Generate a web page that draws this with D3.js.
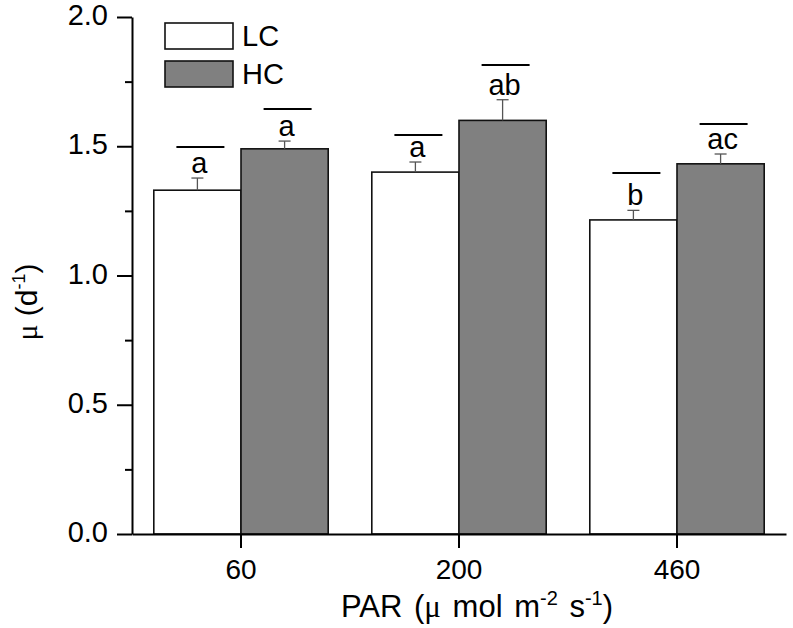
<!DOCTYPE html>
<html>
<head>
<meta charset="utf-8">
<script src="https://cdn.jsdelivr.net/npm/d3@7"></script>
<style>
  html, body { margin: 0; padding: 0; background: #fff; }
  svg { display: block; font-family: "Liberation Sans", Arial, sans-serif; }
</style>
</head>
<body>
<svg id="chart" width="793" height="628"></svg>
<script>
// ---- data ----
const categories = ["60", "200", "460"];
const seriesNames = ["LC", "HC"];
const lcValues = [1.33, 1.40, 1.215];
const hcValues = [1.49, 1.60, 1.432];
const lcErrors = [0.047, 0.039, 0.037];
const hcErrors = [0.030, 0.080, 0.038];
const lcLetters = ["a", "a", "b"];
const hcLetters = ["a", "ab", "ac"];
const lcLineLevels = [1.497, 1.544, 1.397];
const hcLineLevels = [1.644, 1.814, 1.586];
const yMajorTicks = [0, 0.5, 1.0, 1.5, 2.0];
const yMinorTicks = [0.25, 0.75, 1.25, 1.75];

const colors = { LC: "#ffffff", HC: "#808080" };

(function () {
const svg = d3.select("#chart");
const mLeft = 132, mRight = 786, mTop = 17, mBottom = 534;
const FONT = "Liberation Sans, Arial, sans-serif";

const x = d3.scaleBand().domain(categories).range([mLeft, mRight])
  .paddingInner(0.2).paddingOuter(0.1);
const xSub = d3.scaleBand().domain(seriesNames).range([0, x.bandwidth()]).padding(0);
const y = d3.scaleLinear().domain([0, 2]).range([mBottom, mTop]);

const rows = [];
categories.forEach((c, i) => {
  rows.push({ cat: c, s: "LC", v: lcValues[i], e: lcErrors[i], letter: lcLetters[i], line: lcLineLevels[i] });
  rows.push({ cat: c, s: "HC", v: hcValues[i], e: hcErrors[i], letter: hcLetters[i], line: hcLineLevels[i] });
});
const cx = d => x(d.cat) + xSub(d.s) + xSub.bandwidth() / 2;

// bars
svg.append("g").selectAll("rect").data(rows).join("rect")
  .attr("x", d => x(d.cat) + xSub(d.s))
  .attr("y", d => y(d.v))
  .attr("width", xSub.bandwidth())
  .attr("height", d => y(0) - y(d.v))
  .attr("fill", d => colors[d.s])
  .attr("stroke", "#111")
  .attr("stroke-width", 1.6);

// error bars
const eg = svg.append("g").attr("stroke", "#555").attr("stroke-width", 1.3);
eg.selectAll("line.v").data(rows).join("line").attr("class", "v")
  .attr("x1", cx).attr("x2", cx)
  .attr("y1", d => y(d.v)).attr("y2", d => y(d.v + d.e));
eg.selectAll("line.c").data(rows).join("line").attr("class", "c")
  .attr("x1", d => cx(d) - 6).attr("x2", d => cx(d) + 6)
  .attr("y1", d => y(d.v + d.e)).attr("y2", d => y(d.v + d.e));

// significance letters and lines
svg.append("g").selectAll("line").data(rows).join("line")
  .attr("x1", d => cx(d) + 3 - 24).attr("x2", d => cx(d) + 3 + 24)
  .attr("y1", d => y(d.line)).attr("y2", d => y(d.line))
  .attr("stroke", "#000").attr("stroke-width", 2);
svg.append("g").selectAll("text").data(rows).join("text")
  .attr("x", d => cx(d) + 2)
  .attr("y", d => y(d.v + d.e) - 5)
  .attr("text-anchor", "middle")
  .attr("font-size", 29)
  .attr("fill", "#000")
  .text(d => d.letter);

// axes
const xAxis = svg.append("g").attr("transform", `translate(0,${mBottom})`)
  .call(d3.axisBottom(x).tickSize(14).tickSizeOuter(0).tickPadding(11));
xAxis.select(".domain").attr("stroke-width", 2);
xAxis.selectAll(".tick line").attr("stroke-width", 2);
xAxis.selectAll(".tick text").attr("font-size", 28).attr("fill", "#000")
  .attr("font-family", FONT);

const yAxis = svg.append("g").attr("transform", `translate(${mLeft},0)`)
  .call(d3.axisLeft(y).tickValues(yMajorTicks).tickFormat(d3.format(".1f"))
    .tickSize(15).tickSizeOuter(0).tickPadding(9));
yAxis.select(".domain").attr("stroke-width", 2);
yAxis.selectAll(".tick line").attr("stroke-width", 2);
yAxis.selectAll(".tick text").attr("font-size", 29).attr("fill", "#000")
  .attr("font-family", FONT).attr("dy", "0.26em");

const yMinor = svg.append("g").attr("transform", `translate(${mLeft},0)`)
  .call(d3.axisLeft(y).tickValues(yMinorTicks).tickFormat("").tickSize(7).tickSizeOuter(0));
yMinor.select(".domain").remove();
yMinor.selectAll(".tick line").attr("stroke-width", 2);

// legend
const legend = svg.append("g");
seriesNames.forEach((s, i) => {
  legend.append("rect")
    .attr("x", 165).attr("y", 23 + i * 38)
    .attr("width", 68).attr("height", 26)
    .attr("fill", colors[s]).attr("stroke", "#111").attr("stroke-width", 1.6);
  legend.append("text")
    .attr("x", 242).attr("y", 46 + i * 38)
    .attr("font-size", 29).attr("fill", "#000")
    .text(s);
});

// axis titles
const xt = svg.append("text")
  .attr("x", 477).attr("y", 617)
  .attr("text-anchor", "middle").attr("font-size", 31).attr("fill", "#000")
  .style("word-spacing", "3px");
xt.append("tspan").text("PAR (");
xt.append("tspan").attr("font-family", "Liberation Serif, serif").text("μ");
xt.append("tspan").text(" mol m");
xt.append("tspan").attr("dy", -12).attr("font-size", 20).text("-2");
xt.append("tspan").attr("dy", 12).text(" s");
xt.append("tspan").attr("dy", -12).attr("font-size", 20).text("-1");
xt.append("tspan").attr("dy", 12).text(")");

const yt = svg.append("text")
  .attr("transform", "translate(37,302) rotate(-90)")
  .attr("text-anchor", "middle").attr("font-size", 30).attr("fill", "#000");
yt.append("tspan").attr("font-family", "Liberation Serif, serif").text("μ");
yt.append("tspan").text(" (d");
yt.append("tspan").attr("dy", -12).attr("font-size", 18).text("-1");
yt.append("tspan").attr("dy", 12).text(")");
})();
</script>
</body>
</html>
